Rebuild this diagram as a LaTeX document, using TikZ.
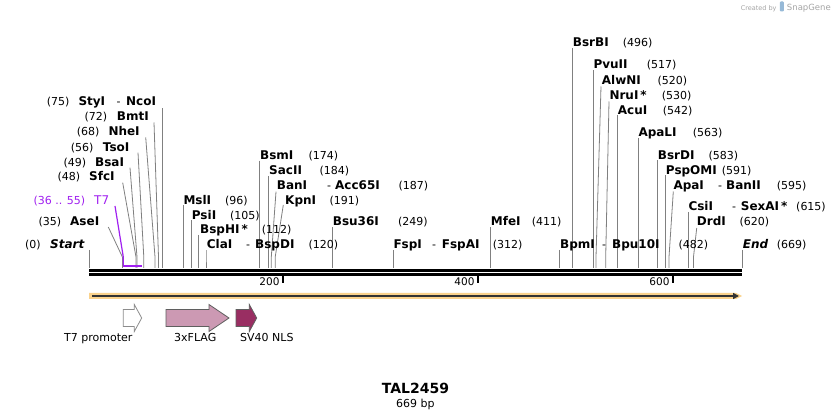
\documentclass[tikz,border=0pt]{standalone}
\usepackage{fontspec}
\setmainfont{DejaVu Sans}
\usetikzlibrary{arrows.meta}
\definecolor{cutgray}{RGB}{128,128,128}
\definecolor{tsev}{RGB}{160,32,240}
\definecolor{bandor}{RGB}{250,210,140}
\definecolor{flagpink}{RGB}{204,153,179}
\definecolor{svmag}{RGB}{153,46,98}
\definecolor{featline}{RGB}{95,95,95}
\definecolor{logogray}{RGB}{165,165,165}
\definecolor{logoblue}{RGB}{150,185,215}
\tikzset{
  nm/.style={inner sep=0pt, anchor=base west, font=\fontsize{12}{14}\selectfont\bfseries},
  nmi/.style={inner sep=0pt, anchor=base west, font=\fontsize{12}{14}\selectfont\bfseries\itshape},
  numl/.style={inner sep=0pt, anchor=base west, font=\fontsize{11}{13}\selectfont},
  purp/.style={inner sep=0pt, anchor=base west, text=tsev, font=\fontsize{11}{13}\selectfont},
  purpb/.style={inner sep=0pt, anchor=base west, text=tsev, font=\fontsize{12}{14}\selectfont},
  cutline/.style={draw=cutgray, line width=0.8pt},
  tickl/.style={inner sep=0pt, anchor=base east, font=\fontsize{10.5}{12}\selectfont},
  featlab/.style={inner sep=0pt, anchor=base west, font=\fontsize{11}{13}\selectfont},
  featbox/.style={draw=featline, line width=0.8pt, line join=miter},
}
\begin{document}
\begin{tikzpicture}[x=1pt,y=-1pt]
\useasboundingbox (0,0) rectangle (832,419);
\fill[white] (0,0) rectangle (832,419);

% ---- cut lines ----
\foreach \xt/\yt/\xs [count=\i] in {
  89.3/250/89.3, 162.3/108.3/162.3, 154/122.5/158.5, 145.7/137.3/155,
  138/152.7/143.8, 130/167.7/137, 122.7/182.7/136, 108.3/227/122.4,
  183.3/205.5/183.3, 191.7/220.5/191.7, 198.3/235/198.3, 206/250.5/206,
  259.3/160.7/259.3, 268.3/176/268.3, 276/191.7/271.3, 283.3/205/275.2,
  332.3/227.5/332.3, 393.3/250/393.3, 490.3/227.5/490.3, 559.3/250/559.3,
  572.5/48/572.5, 593.3/70.5/593.3, 601/86.5/596, 609/101.5/605.7,
  617.7/115.5/617.7, 638.3/138/638.3, 657.7/160.5/657.7, 665.7/175.5/665.7,
  673.3/191.5/669, 688.7/212/688.7, 696.7/228/693.5, 742/250/742}
{
  \coordinate (ct\i) at (\xt,\yt);
  \coordinate (cs\i) at (\xs,268);
  \draw[cutline] (ct\i) -- ([yshift=11pt]cs\i) -- (cs\i);
}

% ---- T7 primer-like feature ----
\coordinate (t7top) at (115,206);
\coordinate (t7a) at (123.3,265.7);
\coordinate (t7b) at (142,265.7);
\draw[tsev, line width=1.2pt] (t7top) -- ([yshift=8.7pt]t7a) -- (t7a);
\draw[tsev, line width=2pt] (t7a) -- (t7b);

% ---- texts ----
\foreach \x/\y/\s/\t [count=\i] in {
  46.7/101/numl/{(75)}, 78.3/101/nm/{StyI}, 116.5/101/numl/{-}, 126/101/nm/{NcoI},
  84.3/116.7/numl/{(72)}, 116.7/116.7/nm/{BmtI},
  76.7/131.7/numl/{(68)}, 108.3/131.7/nm/{NheI},
  70.7/147/numl/{(56)}, 102.7/147/nm/{TsoI},
  63.3/162/numl/{(49)}, 95/162/nm/{BsaI},
  57.3/176.7/numl/{(48)}, 89/176.7/nm/{SfcI},
  33.3/200/purp/{(36 .. 55)}, 94/200/purpb/{T7},
  38.3/221.7/numl/{(35)}, 70/221.7/nm/{AseI},
  25/244.3/numl/{(0)}, 50/244.3/nmi/{Start},
  183.3/200/nm/{MslI}, 225/200/numl/{(96)},
  191.7/215/nm/{PsiI}, 230/215/numl/{(105)},
  200/229.3/nm/{BspHI\,*}, 261.7/229.3/numl/{(112)},
  206.7/244/nm/{ClaI}, 246/244/numl/{-}, 255/244/nm/{BspDI}, 308.3/244/numl/{(120)},
  260/155/nm/{BsmI}, 308.3/155/numl/{(174)},
  269/170/nm/{SacII}, 319.3/170/numl/{(184)},
  276.7/185/nm/{BanI}, 327/185/numl/{-}, 335/185/nm/{Acc65I}, 398.3/185/numl/{(187)},
  285/200/nm/{KpnI}, 329.3/200/numl/{(191)},
  332.7/221.7/nm/{Bsu36I}, 398/221.7/numl/{(249)},
  393.3/244/nm/{FspI}, 432/244/numl/{-}, 441.7/244/nm/{FspAI}, 492.7/244/numl/{(312)},
  490.7/221.7/nm/{MfeI}, 531.7/221.7/numl/{(411)},
  572.7/42.3/nm/{BsrBI}, 622.7/42.3/numl/{(496)},
  593.3/64.5/nm/{PvuII}, 646.7/64.5/numl/{(517)},
  601.7/80/nm/{AlwNI}, 657.3/80/numl/{(520)},
  609.3/95/nm/{NruI\,*}, 661.7/95/numl/{(530)},
  617.7/110/nm/{AcuI}, 662.7/110/numl/{(542)},
  638.3/132.3/nm/{ApaLI}, 692.7/132.3/numl/{(563)},
  657.7/155/nm/{BsrDI}, 708.3/155/numl/{(583)},
  665.7/170/nm/{PspOMI}, 721.7/170/numl/{(591)},
  673.3/185/nm/{ApaI}, 718/185/numl/{-}, 726/185/nm/{BanII}, 776.7/185/numl/{(595)},
  688.3/206.7/nm/{CsiI}, 732/206.7/numl/{-}, 740.7/206.7/nm/{SexAI\,*}, 796/206.7/numl/{(615)},
  696.7/221.7/nm/{DrdI}, 739.3/221.7/numl/{(620)},
  560/244/nm/{BpmI}, 602/244/numl/{-}, 612/244/nm/{Bpu10I}, 678.3/244/numl/{(482)},
  742.7/244/nmi/{End}, 776.7/244/numl/{(669)}}
{
  \node[\s] (txt\i) at (\x,\y+4.3) {\t};
}

% ---- backbone ----
\coordinate (bbL) at (89,270.2);
\coordinate (bbR) at (742,270.2);
\draw[black, line width=2.7pt] (bbL) -- (bbR);
\draw[black, line width=2.7pt] ([yshift=-4pt]bbL) -- ([yshift=-4pt]bbR);

% ---- ticks ----
\foreach \tx/\tl in {283.3/200, 478.3/400, 673.3/600}{
  \coordinate (tk\tl) at (\tx,275.3);
  \draw[black, line width=1.8pt] (tk\tl) -- ([yshift=-7.5pt]tk\tl);
  \node[tickl] (tkl\tl) at ([xshift=-3.6pt,yshift=-10.5pt]tk\tl) {\tl};
}

% ---- orange direction band ----
\coordinate (orL) at (89,296);
\coordinate (orR) at (742,296);
\fill[bandor] ([yshift=3pt]orL) -- ([xshift=-6pt,yshift=3pt]orR) -- (orR)
  -- ([xshift=-6pt,yshift=-3pt]orR) -- ([yshift=-3pt]orL) -- cycle;
\draw[black!80, line width=1.8pt, -{Triangle[length=6pt,width=6pt]}]
  ([xshift=3pt]orL) -- ([xshift=-3pt]orR);

% ---- features ----
\draw[featbox, fill=white, draw=black!45]
  (123.3,309.5) -- (134.3,309.5) -- (134.3,304.5) -- (141.7,318) -- (134.3,331.5)
  -- (134.3,326.5) -- (123.3,326.5) -- cycle;
\draw[featbox, fill=flagpink]
  (166,309.5) -- (209,309.5) -- (209,304.5) -- (229,318) -- (209,331.5)
  -- (209,326.5) -- (166,326.5) -- cycle;
\draw[featbox, fill=svmag]
  (236,309.5) -- (249.3,309.5) -- (249.3,304.5) -- (256.7,318) -- (249.3,331.5)
  -- (249.3,326.5) -- (236,326.5) -- cycle;
\node[featlab] (f1) at (64,341.3) {T7 promoter};
\node[featlab] (f2) at (174,341.3) {3xFLAG};
\node[featlab] (f3) at (240,341.3) {SV40 NLS};

% ---- title ----
\node[inner sep=0pt, font=\fontsize{14}{16}\selectfont\bfseries] (title) at (415.5,388) {TAL2459};
\node[inner sep=0pt, font=\fontsize{11}{13}\selectfont] (len) at (415.3,404) {669 bp};

% ---- logo ----
\node[inner sep=0pt, anchor=base east, text=logogray, font=\fontsize{8.5}{10}\selectfont] (sg) at (831,10.5) {SnapGene};
\fill[logoblue, rounded corners=1pt] ([xshift=-7pt,yshift=-1pt]sg.base west) rectangle ([xshift=-3pt,yshift=9pt]sg.base west);
\node[inner sep=0pt, anchor=base east, text=logogray, font=\fontsize{6.5}{8}\selectfont] (cb) at ([xshift=-10pt]sg.base west) {Created by};
\end{tikzpicture}
\end{document}
